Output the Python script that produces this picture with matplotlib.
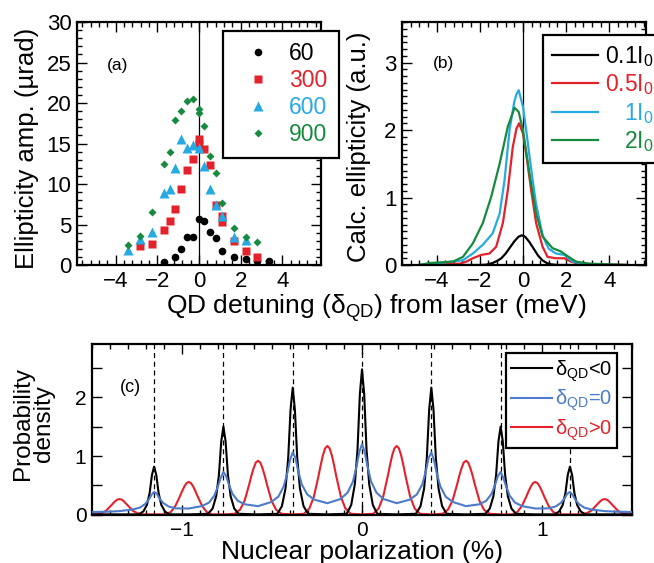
import matplotlib
matplotlib.use("Agg")
import matplotlib.pyplot as plt
from matplotlib.ticker import MultipleLocator
from matplotlib.lines import Line2D

plt.rcParams['font.family'] = ['Liberation Sans', 'DejaVu Sans']
plt.rcParams['mathtext.fontset'] = 'custom'
plt.rcParams['mathtext.rm'] = 'Liberation Sans'
plt.rcParams['mathtext.it'] = 'Liberation Sans:italic'

# ---- panel (a): measured ellipticity amplitude vs detuning ----
a_labels = ["60", "300", "600", "900"]
a_x60 = [-1.70, -1.14, -0.85, -0.58, -0.29, 0.0, 0.26, 0.53, 0.82, 1.09, 1.67, 2.24, 2.80, 3.37]
a_y60 = [0.4, 0.95, 2.0, 3.4, 3.5, 5.7, 5.45, 4.1, 3.3, 1.75, 1.0, 0.8, 0.5, 0.55]
a_x300 = [-2.82, -2.26, -1.70, -1.41, -1.13, -0.85, -0.58, -0.29, 0.0, 0.0, 0.26, 0.55, 0.82, 1.1, 1.1, 1.68, 2.24, 2.80]
a_y300 = [2.35, 2.6, 4.35, 5.45, 6.9, 9.4, 11.7, 13.1, 15.5, 15.0, 14.3, 12.3, 7.4, 6.0, 5.3, 3.0, 1.7, 1.0]
a_x600 = [-3.39, -2.82, -2.26, -1.70, -1.41, -1.13, -0.85, -0.58, -0.29, 0.0, 0.26, 0.55, 0.82, 1.1, 1.68, 2.24]
a_y600 = [1.8, 3.2, 4.1, 8.85, 9.4, 12.0, 15.5, 14.5, 14.8, 14.4, 12.2, 9.4, 7.4, 6.1, 3.5, 3.1]
a_x900 = [-3.39, -2.82, -2.26, -1.70, -1.41, -1.13, -0.85, -0.58, -0.29, 0.0, 0.0, 0.26, 0.55, 0.82, 1.1, 1.68, 2.24, 2.80]
a_y900 = [2.5, 3.6, 6.5, 12.5, 13.9, 17.9, 19.0, 20.3, 20.5, 19.2, 18.8, 17.1, 13.5, 11.3, 7.7, 4.6, 3.5, 2.8]

# ---- panel (b): calculated ellipticity ----
b_labels = ["0.1I$_0$", "0.5I$_0$", "1I$_0$", "2I$_0$"]
b_x01 = [-4.8, -2.0, -1.7, -1.4, -1.2, -1.0, -0.8, -0.6, -0.4, -0.2, -0.05, 0.1, 0.3, 0.5, 0.7, 0.9, 1.1, 1.3, 1.6, 4.8]
b_y01 = [0.0, 0.0, 0.005, 0.03, 0.06, 0.10, 0.17, 0.26, 0.35, 0.42, 0.44, 0.42, 0.34, 0.24, 0.14, 0.07, 0.03, 0.01, 0.0, 0.0]
b_x05 = [-4.8, -2.93, -2.62, -2.32, -1.93, -1.55, -1.24, -0.93, -0.7, -0.47, -0.3, -0.18, 0.0, 0.15, 0.38, 0.61, 0.91, 1.14, 1.53, 1.92, 2.22, 2.6, 4.8]
b_y05 = [0.0, 0.02, 0.05, 0.10, 0.15, 0.17, 0.27, 0.62, 1.11, 1.75, 2.02, 2.10, 1.95, 1.65, 1.11, 0.62, 0.27, 0.12, 0.10, 0.10, 0.05, 0.02, 0.0]
b_x1 = [-4.8, -3.85, -2.78, -2.32, -1.86, -1.4, -1.08, -0.85, -0.62, -0.4, -0.3, -0.2, 0.0, 0.15, 0.3, 0.45, 0.6, 0.76, 0.9, 1.07, 1.2, 1.53, 1.92, 2.3, 2.76, 3.5, 4.8]
b_y1 = [0.0, 0.03, 0.07, 0.17, 0.30, 0.47, 0.76, 1.26, 2.0, 2.42, 2.53, 2.59, 2.35, 2.0, 1.62, 1.26, 0.92, 0.67, 0.46, 0.32, 0.24, 0.17, 0.15, 0.05, 0.02, 0.0, 0.0]
b_x2 = [-4.8, -4.3, -3.24, -2.78, -2.32, -1.86, -1.47, -1.08, -0.7, -0.39, -0.2, 0.0, 0.3, 0.61, 0.91, 1.37, 1.76, 2.07, 2.46, 3.07, 4.8]
b_y2 = [0.0, 0.03, 0.05, 0.12, 0.32, 0.62, 1.01, 1.50, 2.05, 2.33, 2.27, 2.0, 1.36, 0.76, 0.42, 0.25, 0.20, 0.13, 0.05, 0.02, 0.0]

# ---- panel (c): probability density vs nuclear polarization ----
c_labels = ["δ$_{\\rm QD}$<0", "δ$_{\\rm QD}$=0", "δ$_{\\rm QD}$>0"]
c_dashes = [-1.155, -0.77, -0.385, 0.0, 0.385, 0.77, 1.155]
c_black_x = [-1.5,
             -1.24, -1.215, -1.195, -1.18, -1.167, -1.155, -1.143, -1.13, -1.115, -1.095, -1.07,
             -0.9625,
             -0.855, -0.83, -0.81, -0.795, -0.782, -0.77, -0.758, -0.745, -0.73, -0.71, -0.685,
             -0.5775,
             -0.47, -0.445, -0.425, -0.41, -0.397, -0.385, -0.373, -0.36, -0.345, -0.325, -0.3,
             -0.1925,
             -0.085, -0.06, -0.04, -0.025, -0.012, 0.0, 0.012, 0.025, 0.04, 0.06, 0.085,
             0.1925,
             0.3, 0.325, 0.345, 0.36, 0.373, 0.385, 0.397, 0.41, 0.425, 0.445, 0.47,
             0.5775,
             0.685, 0.71, 0.73, 0.745, 0.758, 0.77, 0.782, 0.795, 0.81, 0.83, 0.855,
             0.9625,
             1.07, 1.095, 1.115, 1.13, 1.143, 1.155, 1.167, 1.18, 1.195, 1.215, 1.24,
             1.5]
c_black_y = [0.01,
             0.01, 0.06, 0.17, 0.37, 0.68, 0.82, 0.68, 0.37, 0.17, 0.06, 0.01,
             0.01,
             0.02, 0.11, 0.32, 0.68, 1.25, 1.50, 1.25, 0.68, 0.32, 0.11, 0.02,
             0.01,
             0.02, 0.15, 0.45, 0.97, 1.79, 2.16, 1.79, 0.97, 0.45, 0.15, 0.02,
             0.01,
             0.02, 0.17, 0.52, 1.11, 2.05, 2.47, 2.05, 1.11, 0.52, 0.17, 0.02,
             0.01,
             0.02, 0.15, 0.45, 0.97, 1.79, 2.16, 1.79, 0.97, 0.45, 0.15, 0.02,
             0.01,
             0.02, 0.11, 0.32, 0.68, 1.25, 1.50, 1.25, 0.68, 0.32, 0.11, 0.02,
             0.01,
             0.01, 0.06, 0.17, 0.37, 0.68, 0.82, 0.68, 0.37, 0.17, 0.06, 0.01,
             0.01]
c_blue_x = [-1.5, -1.42, -1.35,
            -1.275, -1.235, -1.205, -1.185, -1.17, -1.155, -1.14, -1.125, -1.105, -1.075, -1.035,
            -0.9625,
            -0.89, -0.85, -0.82, -0.80, -0.785, -0.77, -0.755, -0.74, -0.72, -0.69, -0.65,
            -0.5775,
            -0.505, -0.465, -0.435, -0.415, -0.40, -0.385, -0.37, -0.355, -0.335, -0.305, -0.265,
            -0.1925,
            -0.12, -0.08, -0.05, -0.03, -0.015, 0.0, 0.015, 0.03, 0.05, 0.08, 0.12,
            0.1925,
            0.265, 0.305, 0.335, 0.355, 0.37, 0.385, 0.40, 0.415, 0.435, 0.465, 0.505,
            0.5775,
            0.65, 0.69, 0.72, 0.74, 0.755, 0.77, 0.785, 0.80, 0.82, 0.85, 0.89,
            0.9625,
            1.035, 1.075, 1.105, 1.125, 1.14, 1.155, 1.17, 1.185, 1.205, 1.235, 1.275,
            1.35, 1.42, 1.5]
c_blue_y = [0.05, 0.055, 0.065,
            0.092, 0.124, 0.185, 0.26, 0.34, 0.39, 0.36, 0.28, 0.205, 0.144, 0.112,
            0.11,
            0.15, 0.21, 0.33, 0.49, 0.63, 0.73, 0.66, 0.52, 0.36, 0.24, 0.18,
            0.15,
            0.22, 0.31, 0.485, 0.71, 0.93, 1.06, 0.97, 0.75, 0.52, 0.35, 0.26,
            0.20,
            0.27, 0.38, 0.57, 0.83, 1.07, 1.20, 1.07, 0.83, 0.57, 0.38, 0.27,
            0.20,
            0.26, 0.35, 0.52, 0.75, 0.97, 1.06, 0.93, 0.71, 0.485, 0.31, 0.22,
            0.15,
            0.18, 0.24, 0.36, 0.52, 0.66, 0.73, 0.63, 0.49, 0.33, 0.21, 0.15,
            0.11,
            0.112, 0.144, 0.205, 0.28, 0.36, 0.39, 0.34, 0.26, 0.185, 0.124, 0.092,
            0.065, 0.055, 0.05]
c_red_x = [-1.5,
           -1.4775, -1.4475, -1.4225, -1.3975, -1.385, -1.3725, -1.36, -1.3475, -1.335, -1.3225, -1.31, -1.2975, -1.2725, -1.2475, -1.2175,
           -1.155,
           -1.0925, -1.0625, -1.0375, -1.0125, -1.0, -0.9875, -0.975, -0.9625, -0.95, -0.9375, -0.925, -0.9125, -0.8875, -0.8625, -0.8325,
           -0.77,
           -0.7075, -0.6775, -0.6525, -0.6275, -0.615, -0.6025, -0.59, -0.5775, -0.565, -0.5525, -0.54, -0.5275, -0.5025, -0.4775, -0.4475,
           -0.385,
           -0.3225, -0.2925, -0.2675, -0.2425, -0.23, -0.2175, -0.205, -0.1925, -0.18, -0.1675, -0.155, -0.1425, -0.1175, -0.0925, -0.0625,
           0.0,
           0.0625, 0.0925, 0.1175, 0.1425, 0.155, 0.1675, 0.18, 0.1925, 0.205, 0.2175, 0.23, 0.2425, 0.2675, 0.2925, 0.3225,
           0.385,
           0.4475, 0.4775, 0.5025, 0.5275, 0.54, 0.5525, 0.565, 0.5775, 0.59, 0.6025, 0.615, 0.6275, 0.6525, 0.6775, 0.7075,
           0.77,
           0.8325, 0.8625, 0.8875, 0.9125, 0.925, 0.9375, 0.95, 0.9625, 0.975, 0.9875, 1.0, 1.0125, 1.0375, 1.0625, 1.0925,
           1.155,
           1.2175, 1.2475, 1.2725, 1.2975, 1.31, 1.3225, 1.335, 1.3475, 1.36, 1.3725, 1.385, 1.3975, 1.4225, 1.4475, 1.4775,
           1.5]
c_red_y = [0.01,
           0.01, 0.03, 0.07, 0.15, 0.19, 0.23, 0.26, 0.27, 0.26, 0.23, 0.19, 0.15, 0.07, 0.03, 0.01,
           0.01,
           0.01, 0.05, 0.15, 0.31, 0.40, 0.48, 0.54, 0.56, 0.54, 0.48, 0.40, 0.31, 0.15, 0.05, 0.01,
           0.01,
           0.02, 0.09, 0.24, 0.51, 0.66, 0.79, 0.89, 0.92, 0.89, 0.79, 0.66, 0.51, 0.24, 0.09, 0.02,
           0.01,
           0.02, 0.11, 0.31, 0.65, 0.84, 1.01, 1.13, 1.17, 1.13, 1.01, 0.84, 0.65, 0.31, 0.11, 0.02,
           0.01,
           0.02, 0.11, 0.31, 0.65, 0.84, 1.01, 1.13, 1.17, 1.13, 1.01, 0.84, 0.65, 0.31, 0.11, 0.02,
           0.01,
           0.02, 0.09, 0.24, 0.51, 0.66, 0.79, 0.89, 0.92, 0.89, 0.79, 0.66, 0.51, 0.24, 0.09, 0.02,
           0.01,
           0.01, 0.05, 0.15, 0.31, 0.40, 0.48, 0.54, 0.56, 0.54, 0.48, 0.40, 0.31, 0.15, 0.05, 0.01,
           0.01,
           0.01, 0.03, 0.07, 0.15, 0.19, 0.23, 0.26, 0.27, 0.26, 0.23, 0.19, 0.15, 0.07, 0.03, 0.01,
           0.01]

RED = "#e3222b"
SKY = "#27a9e1"
GREEN = "#168a3e"
BLUE_C = "#4b7bc9"


def style_axes(ax, xmaj, xmin, ymaj, ymin, size, yminor_len=3.5):
    ax.xaxis.set_major_locator(MultipleLocator(xmaj))
    ax.xaxis.set_minor_locator(MultipleLocator(xmin))
    ax.yaxis.set_major_locator(MultipleLocator(ymaj))
    ax.yaxis.set_minor_locator(MultipleLocator(ymin))
    ax.tick_params(which='both', direction='in', top=True, right=True, width=1.0)
    ax.tick_params(which='major', length=7, labelsize=size, pad=4)
    ax.tick_params(which='minor', length=3.5)
    ax.tick_params(axis='y', which='minor', length=yminor_len)
    for s in ax.spines.values():
        s.set_linewidth(1.6)


def framed(leg):
    leg.get_frame().set_linewidth(1.6)


fig = plt.figure(figsize=(6.54, 5.63), dpi=100)
ax_a = fig.add_axes([0.1177, 0.5293, 0.3731, 0.4316])
ax_b = fig.add_axes([0.6147, 0.5293, 0.3731, 0.4316])
ax_c = fig.add_axes([0.1407, 0.0853, 0.8257, 0.3037])

# (a)
ax_a.axvline(0, color='black', lw=0.9, zorder=1)
ax_a.plot(a_x60, a_y60, 'o', color='black', ms=5.5, mec='none', label=a_labels[0])
ax_a.plot(a_x300, a_y300, 's', color=RED, ms=6, mec='none', label=a_labels[1])
ax_a.plot(a_x600, a_y600, '^', color=SKY, ms=6.5, mec='none', label=a_labels[2])
ax_a.plot(a_x900, a_y900, 'D', color=GREEN, ms=4.5, mec='none', label=a_labels[3])
ax_a.set_xlim(-5.85, 5.85)
ax_a.set_ylim(0, 30)
style_axes(ax_a, 2, 0.4, 5, 1, 16)
ax_a.text(0.165, 0.82, "(a)", transform=ax_a.transAxes, fontsize=12.5, ha='center', va='center')
leg_a = ax_a.legend(loc='upper left', bbox_to_anchor=(0.598, 0.963), borderaxespad=0,
                    fontsize=16.5, frameon=True, fancybox=False, framealpha=1,
                    edgecolor='black', handlelength=2.1, handletextpad=0.3,
                    labelspacing=0.17, borderpad=0.5, numpoints=1)
framed(leg_a)
for t, c in zip(leg_a.get_texts(), ['black', RED, SKY, GREEN]):
    t.set_color(c)

# (b)
ax_b.axvline(0, color='black', lw=0.9, zorder=1)
ax_b.plot(b_x01, b_y01, color='black', lw=1.6, label=b_labels[0])
ax_b.plot(b_x05, b_y05, color=RED, lw=1.6, label=b_labels[1])
ax_b.plot(b_x1, b_y1, color=SKY, lw=1.6, label=b_labels[2])
ax_b.plot(b_x2, b_y2, color=GREEN, lw=1.6, label=b_labels[3])
ax_b.set_xlim(-5.6, 5.7)
ax_b.set_ylim(0, 3.6)
style_axes(ax_b, 2, 0.4, 1, 0.1, 16)
ax_b.text(0.168, 0.83, "(b)", transform=ax_b.transAxes, fontsize=12.5, ha='center', va='center')
leg_b = ax_b.legend(loc='upper left', bbox_to_anchor=(0.578, 0.947), borderaxespad=0,
                    fontsize=16.5, frameon=True, fancybox=False, framealpha=1,
                    edgecolor='black', handlelength=2.0, handletextpad=0.3,
                    labelspacing=0.15, borderpad=0.4)
framed(leg_b)
for t, c in zip(leg_b.get_texts(), ['black', RED, SKY, GREEN]):
    t.set_color(c)

# (c)
for xd in c_dashes:
    ax_c.axvline(xd, color='black', lw=0.9, ls=(0, (4, 3)), zorder=1)
ax_c.plot(c_black_x, c_black_y, color='black', lw=1.5, label=c_labels[0], zorder=3)
ax_c.plot(c_blue_x, c_blue_y, color=BLUE_C, lw=1.5, label=c_labels[1], zorder=4)
ax_c.plot(c_red_x, c_red_y, color=RED, lw=1.5, label=c_labels[2], zorder=2)
ax_c.set_xlim(-1.5, 1.5)
ax_c.set_ylim(0, 2.9)
style_axes(ax_c, 1, 0.1, 1, 0.5, 15, yminor_len=7)
ax_c.text(0.072, 0.746, "(c)", transform=ax_c.transAxes, fontsize=13, ha='center', va='center')
handles_c = [Line2D([], [], color='black', lw=1.5),
             Line2D([], [], color=BLUE_C, lw=1.5),
             Line2D([], [], color=RED, lw=1.5)]
leg_c = ax_c.legend(handles_c, c_labels, loc='upper left', bbox_to_anchor=(0.767, 0.946),
                    borderaxespad=0, fontsize=14.5, frameon=True, fancybox=False,
                    framealpha=1, edgecolor='black', handlelength=2.0,
                    handletextpad=0.15, labelspacing=0.2, borderpad=0.25)
framed(leg_c)
for t, c in zip(leg_c.get_texts(), ['black', BLUE_C, RED]):
    t.set_color(c)

# axis titles
fig.text(0.041, 0.737, "Ellipticity amp. (µrad)", rotation=90, ha='center', va='center', fontsize=18.5)
fig.text(0.549, 0.739, "Calc. ellipticity (a.u.)", rotation=90, ha='center', va='center', fontsize=18.5)
fig.text(0.576, 0.443, "QD detuning (δ$_{\\rm QD}$) from laser (meV)", ha='center', va='baseline', fontsize=19)
fig.text(0.051, 0.247, "Probability\ndensity", rotation=90, ha='center', va='center', fontsize=17.5,
         linespacing=0.9)
ax_c.set_xlabel("Nuclear polarization (%)", fontsize=19, labelpad=0)

# right-align the texts in legend (b) by shifting the shorter ones
fig.canvas.draw()
widths = [t.get_window_extent().width for t in leg_b.get_texts()]
widest = max(widths)
for t, w in zip(leg_b.get_texts(), widths):
    t.set_position((widest - w, 0))

fig.savefig("out.png", dpi=100)
